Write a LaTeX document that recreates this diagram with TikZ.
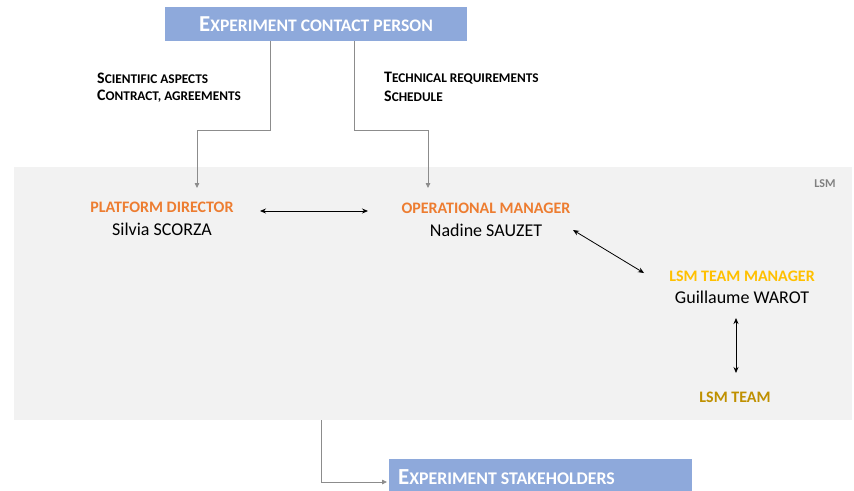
\documentclass[tikz,border=0pt]{standalone}
\usepackage{fontspec}
\setmainfont{Carlito}
\usetikzlibrary{arrows.meta}
\definecolor{boxblue}{HTML}{8EA9DB}
\definecolor{lsmgray}{HTML}{F2F2F2}
\definecolor{orng}{HTML}{ED7D31}
\definecolor{yel}{HTML}{FFC000}
\definecolor{gold}{HTML}{BF9000}
\definecolor{linegray}{HTML}{8C8C8C}
\newcommand{\fs}[1]{\fontsize{#1pt}{#1pt}\selectfont}
\begin{document}
\begin{tikzpicture}[x=1pt,y=-1pt,
  bluebox/.style={fill=boxblue,draw=none,inner sep=0pt,anchor=north west},
  boxtext/.style={text=white,font=\bfseries,anchor=west,inner sep=0pt},
  lbl/.style={font=\bfseries,anchor=west,inner sep=0pt,align=left},
  role/.style={font=\bfseries\fs{16},inner sep=0pt},
  person/.style={font=\fs{18},inner sep=0pt},
  feed/.style={draw=linegray,line width=0.8pt,-{Triangle[length=5pt,width=4.5pt]}},
  link/.style={draw=black,line width=0.8pt,{Stealth[length=6pt,width=5pt]}-{Stealth[length=6pt,width=5pt]}}]
\useasboundingbox (0,0) rectangle (854,490);
% LSM area
\fill[lsmgray] (14,167) rectangle (852,420);
\node[font=\bfseries\fs{12},text=gray,inner sep=0pt] (lsm) at (825,184) {LSM};
% top box
\path[bluebox] (165,7) rectangle (467,41);
\node[boxtext] (cp) at (199,24) {{\fs{22.8}E}{\fs{17.6}XPERIMENT CONTACT PERSON}};
\coordinate (cpA) at (270,41);
\coordinate (cpB) at (354,41);
% labels
\node[lbl] (sci) at (97,78) {{\fs{16}S}{\fs{13.3}CIENTIFIC ASPECTS}};
\node[lbl] (con) at (97,96.5) {{\fs{16}C}{\fs{13.3}ONTRACT, AGREEMENTS}};
\node[lbl] (tec) at (384,78) {{\fs{16}T}{\fs{13.3}ECHNICAL REQUIREMENTS}};
\node[lbl] (sch) at (384,96.5) {{\fs{16}S}{\fs{13.3}CHEDULE}};
% roles
\node[role,text=orng] (pd) at (162,207) {PLATFORM DIRECTOR};
\node[person] (pdn) at (162,229) {Silvia SCORZA};
\node[role,text=orng] (om) at (486,208) {OPERATIONAL MANAGER};
\node[person] (omn) at (486,230) {Nadine SAUZET};
\node[role,text=yel] (tm) at (742,276) {LSM TEAM MANAGER};
\node[person] (tmn) at (742,297.5) {Guillaume WAROT};
\node[role,text=gold] (team) at (735,397) {LSM TEAM};
% feed arrows
\draw[feed] (cpA) -- (270,130) -- (197,130) -- (197,188);
\draw[feed] (cpB) -- (354,130) -- (428,130) -- (428,188);
% links
\coordinate (pdR) at (260,211);
\coordinate (omL) at (368,211);
\draw[link] (pdR) -- (omL);
\coordinate (omR) at (573,230);
\coordinate (tmL) at (644,273);
\draw[link] (omR) -- (tmL);
\coordinate (tmB) at (736,318);
\coordinate (teamT) at (736,373);
\draw[link] (tmB) -- (teamT);
% bottom box
\path[bluebox] (389,459) rectangle (692,492);
\node[boxtext] (st) at (398,477) {{\fs{23}E}{\fs{17.8}XPERIMENT STAKEHOLDERS}};
\coordinate (lsmB) at (321,420);
\draw[feed] (lsmB) -- (321,482) -- (387,482);
\end{tikzpicture}
\end{document}
